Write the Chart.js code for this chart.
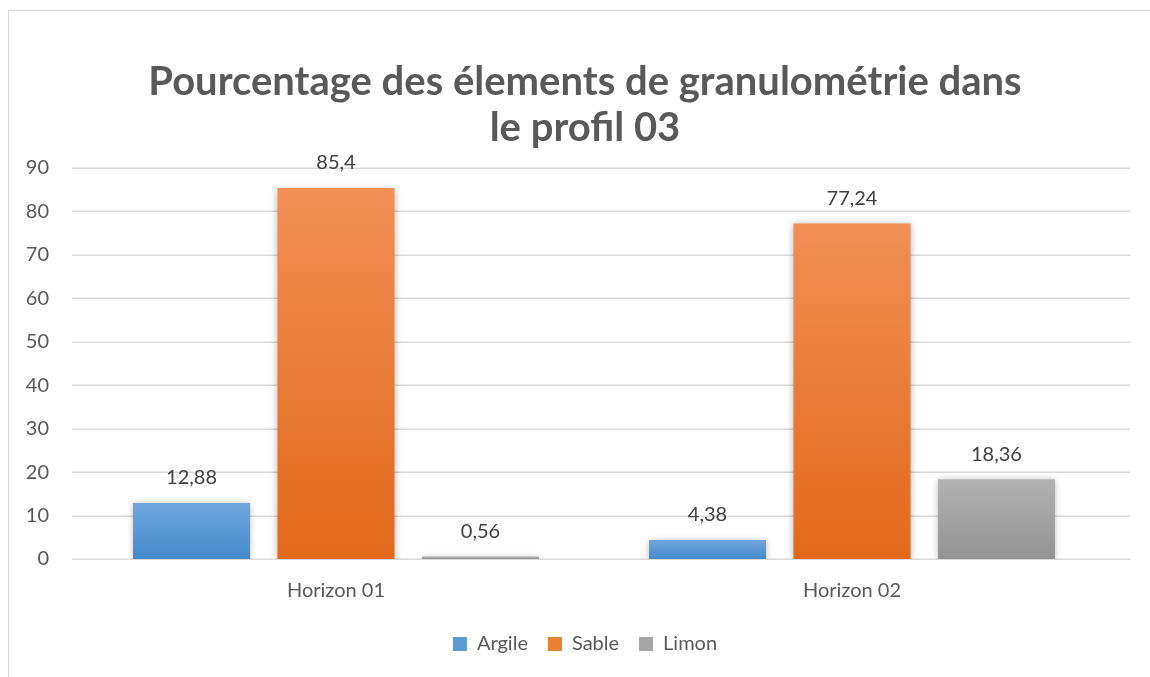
<!DOCTYPE html>
<html><head><meta charset="utf-8">
<script src="https://cdn.jsdelivr.net/npm/chart.js@4"></script>
<style>
html,body{margin:0;padding:0;background:#fff;width:1150px;height:677px;overflow:hidden;}
#frame{position:absolute;left:8px;top:10px;width:1160px;height:700px;border:1px solid #d9d9d9;box-sizing:border-box;}
#c{position:absolute;left:0;top:0;}
</style></head>
<body>
<div id="frame"></div>
<canvas id="c" width="1150" height="677"></canvas>
<script>
const categories = ['Horizon 01', 'Horizon 02'];
const argile = [12.88, 4.38];
const sable = [85.4, 77.24];
const limon = [0.56, 18.36];
const seriesNames = ['Argile', 'Sable', 'Limon'];
const yTicks = [0, 10, 20, 30, 40, 50, 60, 70, 80, 90];

const FONT = 'Lato, Carlito, "Open Sans", sans-serif';
const colors = {
  Argile: ['#70a7dd', '#4589cb', '#5b9bd5'],
  Sable: ['#f28f55', '#e2691a', '#ed7d31'],
  Limon: ['#b2b2b2', '#939393', '#a5a5a5']
};

function grad(name){
  return (ctx) => {
    const chart = ctx.chart;
    if (!chart.chartArea || ctx.raw === undefined) return colors[name][2];
    const y = chart.scales.y.getPixelForValue(ctx.raw);
    const b = chart.scales.y.getPixelForValue(0);
    if (Math.abs(b - y) < 1) return colors[name][1];
    const g = chart.ctx.createLinearGradient(0, y, 0, b);
    g.addColorStop(0, colors[name][0]);
    g.addColorStop(1, colors[name][1]);
    return g;
  };
}

const shadowPlugin = {
  id: 'shadow',
  beforeDatasetDraw(chart){
    const c = chart.ctx; c.save();
    c.shadowColor = 'rgba(0,0,0,0.28)'; c.shadowBlur = 7; c.shadowOffsetX = 0; c.shadowOffsetY = 1;
  },
  afterDatasetDraw(chart){ chart.ctx.restore(); }
};

const gridPlugin = {
  id: 'extGrid',
  beforeDatasetsDraw(chart){
    const c = chart.ctx, ys = chart.scales.y, a = chart.chartArea;
    c.save(); c.strokeStyle = '#d9d9d9'; c.lineWidth = 1.5;
    yTicks.forEach(v => {
      const y = Math.round(ys.getPixelForValue(v)) + 0.25;
      c.beginPath(); c.moveTo(a.left - 6, y); c.lineTo(a.right + 20, y); c.stroke();
    });
    c.restore();
  }
};

const labelPlugin = {
  id: 'valueLabels',
  afterDatasetsDraw(chart){
    const c = chart.ctx;
    c.save();
    c.font = '20px ' + FONT; c.fillStyle = '#404040';
    c.textAlign = 'center'; c.textBaseline = 'middle';
    chart.data.datasets.forEach((ds, i) => {
      chart.getDatasetMeta(i).data.forEach((bar, j) => {
        c.fillText(String(ds.data[j]).replace('.', ','), bar.x, bar.y - 25);
      });
    });
    c.restore();
  }
};

new Chart(document.getElementById('c'), {
  type: 'bar',
  data: {
    labels: categories,
    datasets: [
      { label: seriesNames[0], data: argile, backgroundColor: grad('Argile') },
      { label: seriesNames[1], data: sable, backgroundColor: grad('Sable') },
      { label: seriesNames[2], data: limon, backgroundColor: grad('Limon') }
    ]
  },
  options: {
    responsive: false,
    animation: false,
    categoryPercentage: 0.84,
    barPercentage: 0.81,
    layout: { padding: { left: 20, right: 0, top: 0, bottom: 13 } },
    plugins: {
      title: {
        display: true,
        text: ['Pourcentage des élements de granulométrie dans', 'le profil 03'],
        color: '#595959',
        font: { family: FONT, size: 40, weight: 'bold', lineHeight: '46px' },
        padding: { top: 59, bottom: 17 }
      },
      legend: {
        position: 'bottom',
        labels: {
          color: '#595959',
          font: { family: FONT, size: 20 },
          boxWidth: 14, boxHeight: 14, padding: 20,
          generateLabels(chart){
            return chart.data.datasets.map((ds, i) => ({
              text: ds.label, fillStyle: colors[ds.label][2], strokeStyle: colors[ds.label][2],
              lineWidth: 0, hidden: false, datasetIndex: i, fontColor: '#595959'
            }));
          }
        }
      },
      tooltip: { enabled: false }
    },
    scales: {
      x: {
        grid: { display: false, drawTicks: false },
        border: { display: false },
        ticks: { color: '#595959', font: { family: FONT, size: 20 }, padding: 20 },
        afterFit(scale){ scale.height = 55; }
      },
      y: {
        min: 0, max: 90,
        afterBuildTicks(scale){ scale.ticks = yTicks.map(v => ({ value: v })); },
        grid: { display: false, drawTicks: false },
        border: { display: false },
        ticks: { color: '#595959', font: { family: FONT, size: 20 }, padding: 29 },
        afterFit(scale){ scale.width = 58; }
      },
      yRight: {
        position: 'right',
        min: 0, max: 90,
        grid: { display: false, drawTicks: false },
        border: { display: false },
        ticks: { display: false },
        afterFit(scale){ scale.width = 40; }
      }
    }
  },
  plugins: [gridPlugin, shadowPlugin, labelPlugin]
});
</script>
</body></html>
